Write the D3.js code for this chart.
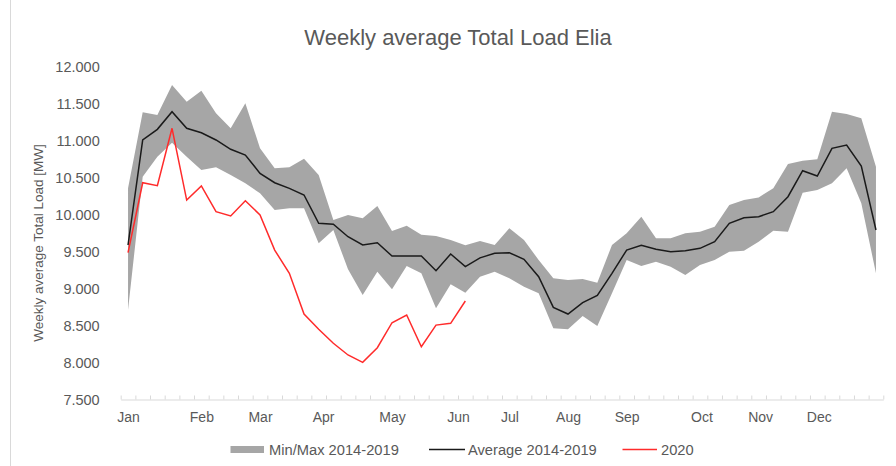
<!DOCTYPE html>
<html><head><meta charset="utf-8">
<script src="https://cdn.jsdelivr.net/npm/d3@7"></script>
<style>
body{margin:0;background:#fff}
svg{display:block}
text{font-family:'Liberation Sans',Arial,sans-serif;fill:#595959}
</style>
</head><body><svg id="c" width="896" height="466"></svg>
<script>
const weeks = d3.range(1, 53);
const avgLoad = [9589,11009,11153,11392,11167,11107,11009,10883,10806,10558,10431,10355,10265,9882,9869,9701,9589,9620,9440,9440,9440,9242,9467,9296,9415,9476,9485,9396,9161,8746,8656,8809,8909,9206,9521,9585,9531,9499,9512,9544,9634,9882,9958,9972,10040,10242,10594,10522,10896,10941,10657,9792];
const maxLoad = [10355,11383,11347,11752,11527,11675,11369,11167,11505,10896,10626,10640,10757,10535,9927,9995,9950,10115,9778,9850,9729,9711,9657,9585,9643,9589,9815,9657,9386,9138,9116,9129,9080,9589,9747,9972,9680,9680,9747,9769,9837,10130,10197,10233,10355,10684,10729,10748,11392,11360,11302,10648];
const minLoad = [8710,10512,10783,10972,10783,10603,10640,10535,10423,10288,10062,10085,10085,9612,9792,9261,8912,9228,8990,9305,9206,8733,9057,8944,9161,9228,9138,9025,8935,8463,8449,8629,8494,8935,9386,9305,9364,9296,9183,9319,9386,9499,9512,9634,9782,9769,10297,10333,10423,10626,10153,9206];
const load2020 = [9485,10431,10391,11167,10197,10387,10040,9981,10188,9995,9520,9206,8656,8449,8260,8102,8003,8200,8538,8643,8214,8506,8530,8832];
const monthLabels = ["Jan","Feb","Mar","Apr","May","Jun","Jul","Aug","Sep","Oct","Nov","Dec"];
const monthWeeks = [1,6,10,14.3,19,23.5,27,31,35,40.1,44.1,48.1];
const yTicks = [7500,8000,8500,9000,9500,10000,10500,11000,11500,12000];
const legendLabels = ["Min/Max 2014-2019","Average 2014-2019","2020"];
const titleText = "Weekly average Total Load Elia";
const yTitle = "Weekly average Total Load [MW]";

const svg = d3.select("#c");
const x = d3.scaleLinear().domain([0.5, 52.5]).range([120.7, 883.3]);
const y = d3.scaleLinear().domain([7500, 12000]).range([399.5, 66.7]);

// outer border (left edge visible)
svg.append("line").attr("x1",10.5).attr("x2",10.5).attr("y1",0).attr("y2",466)
  .attr("stroke","#d9d9d9").attr("stroke-width",1);

// title
svg.append("text").attr("x",458).attr("y",37).attr("text-anchor","middle")
  .attr("dominant-baseline","central").style("font-size","22px").text(titleText);

// y axis title
svg.append("text").attr("transform","translate(38,243) rotate(-90)")
  .attr("text-anchor","middle").attr("dominant-baseline","central")
  .style("font-size","13.5px").text(yTitle);

// y axis labels
const yAxis = svg.append("g").attr("transform","translate(120.7,0)")
  .call(d3.axisLeft(y).tickValues(yTicks).tickSize(0).tickPadding(21)
    .tickFormat(d => d3.format(",")(d).replace(/,/g, ".")));
yAxis.select(".domain").remove();
yAxis.selectAll("text").style("font-size","14.5px").attr("fill","#595959");

// band
const area = d3.area().x((d,i)=>x(weeks[i])).y0((d,i)=>y(minLoad[i])).y1((d,i)=>y(maxLoad[i]));
svg.append("path").datum(weeks).attr("d",area).attr("fill","#a6a6a6");

// x axis line and week ticks
const xAxis = svg.append("g").attr("transform","translate(0,399.5)")
  .call(d3.axisBottom(x).tickValues(d3.range(0.5, 53.5, 1)).tickSizeInner(-4).tickSizeOuter(0).tickFormat(""));
xAxis.selectAll("path,line").attr("stroke","#d9d9d9");

// month labels
const mAxis = svg.append("g").attr("transform","translate(0,399.5)")
  .call(d3.axisBottom(x).tickValues(monthWeeks).tickSize(0).tickPadding(13)
    .tickFormat((d,i)=>monthLabels[i]));
mAxis.select(".domain").remove();
mAxis.selectAll("text").style("font-size","14px").attr("fill","#595959");

// average line
const line = d3.line().x(d=>x(d[0])).y(d=>y(d[1]));
svg.append("path").datum(weeks.map((w,i)=>[w, avgLoad[i]])).attr("d",line)
  .attr("fill","none").attr("stroke","#1a1a1a").attr("stroke-width",1.5);
// 2020 line
svg.append("path").datum(load2020.map((v,i)=>[weeks[i], v])).attr("d",line)
  .attr("fill","none").attr("stroke","#ff2b2b").attr("stroke-width",1.5);

// legend
const lg = svg.append("g");
lg.append("rect").attr("x",230.5).attr("y",446).attr("width",33.5).attr("height",7).attr("fill","#a6a6a6");
lg.append("text").attr("x",269).attr("y",450).attr("dominant-baseline","central").style("font-size","14.7px").text(legendLabels[0]);
lg.append("line").attr("x1",429).attr("x2",465).attr("y1",449.5).attr("y2",449.5).attr("stroke","#1a1a1a").attr("stroke-width",1.5);
lg.append("text").attr("x",468).attr("y",450).attr("dominant-baseline","central").style("font-size","14.7px").text(legendLabels[1]);
lg.append("line").attr("x1",622.5).attr("x2",657).attr("y1",449.5).attr("y2",449.5).attr("stroke","#ff2b2b").attr("stroke-width",1.5);
lg.append("text").attr("x",661).attr("y",450).attr("dominant-baseline","central").style("font-size","14.7px").text(legendLabels[2]);
</script>
</body></html>
